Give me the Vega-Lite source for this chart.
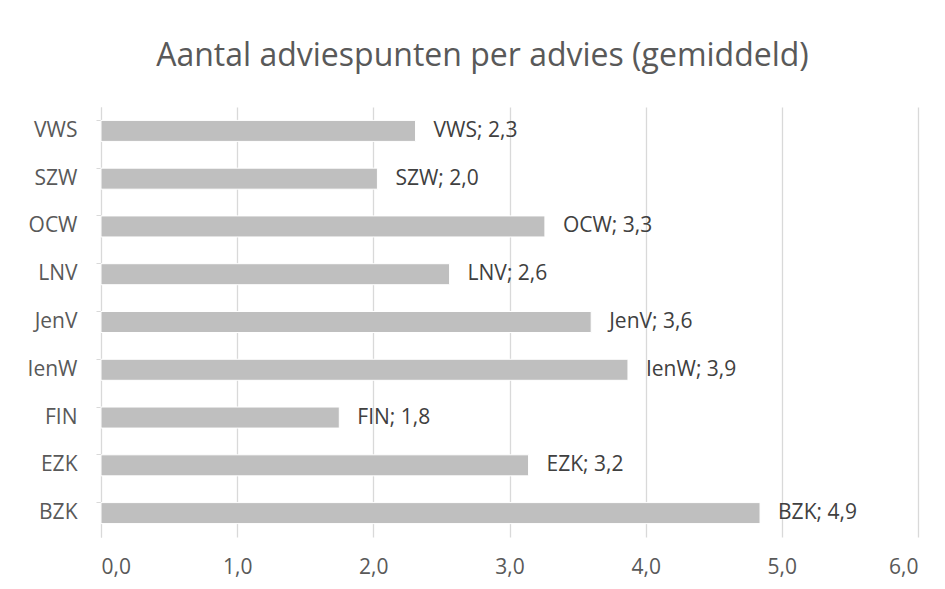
{
  "$schema": "https://vega.github.io/schema/vega-lite/v6.json",
  "autosize": "none",
  "width": 817,
  "height": 430,
  "padding": {"left": 101, "top": 107, "right": 27, "bottom": 52},
  "background": "white",
  "config": {
    "locale": {"number": {"decimal": ",", "thousands": ".", "grouping": [3], "currency": ["€", ""]}},
    "view": {"stroke": null},
    "font": "Open Sans"
  },
  "title": {
    "text": "Aantal adviespunten per advies (gemiddeld)",
    "fontSize": 32,
    "font": "Open Sans",
    "fontWeight": "normal",
    "color": "#595959",
    "anchor": "middle",
    "dx": -27,
    "offset": 34
  },
  "data": {
    "values": [
      {"dept": "VWS", "value": 2.31, "label": "VWS; 2,3"},
      {"dept": "SZW", "value": 2.03, "label": "SZW; 2,0"},
      {"dept": "OCW", "value": 3.26, "label": "OCW; 3,3"},
      {"dept": "LNV", "value": 2.56, "label": "LNV; 2,6"},
      {"dept": "JenV", "value": 3.6, "label": "JenV; 3,6"},
      {"dept": "IenW", "value": 3.87, "label": "IenW; 3,9"},
      {"dept": "FIN", "value": 1.75, "label": "FIN; 1,8"},
      {"dept": "EZK", "value": 3.14, "label": "EZK; 3,2"},
      {"dept": "BZK", "value": 4.84, "label": "BZK; 4,9"}
    ]
  },
  "encoding": {
    "y": {
      "field": "dept",
      "type": "nominal",
      "sort": ["VWS", "SZW", "OCW", "LNV", "JenV", "IenW", "FIN", "EZK", "BZK"],
      "scale": {"paddingInner": 0.56, "paddingOuter": 0.28},
      "axis": {
        "title": null,
        "labelFontSize": 21,
        "labelColor": "#595959",
        "labelFont": "Open Sans",
        "domainColor": "#d9d9d9",
        "tickColor": "#d9d9d9",
        "tickSize": 5,
        "bandPosition": 0,
        "labelPadding": 19,
        "grid": false
      }
    },
    "x": {
      "field": "value",
      "type": "quantitative",
      "scale": {"domain": [0, 6], "nice": false},
      "axis": {
        "title": null,
        "values": [0, 1, 2, 3, 4, 5, 6],
        "format": ".1f",
        "labelFontSize": 21,
        "labelColor": "#595959",
        "labelFont": "Open Sans",
        "domain": false,
        "ticks": false,
        "labelPadding": 19,
        "grid": true,
        "gridColor": "#d9d9d9",
        "gridWidth": 1.3
      }
    }
  },
  "layer": [
    {
      "mark": {"type": "bar", "color": "#bfbfbf", "stroke": "white", "strokeWidth": 1}
    },
    {
      "mark": {"type": "text", "align": "left", "baseline": "middle", "dx": 18, "fontSize": 21, "color": "#404040", "font": "Open Sans"},
      "encoding": {"text": {"field": "label"}}
    }
  ]
}
